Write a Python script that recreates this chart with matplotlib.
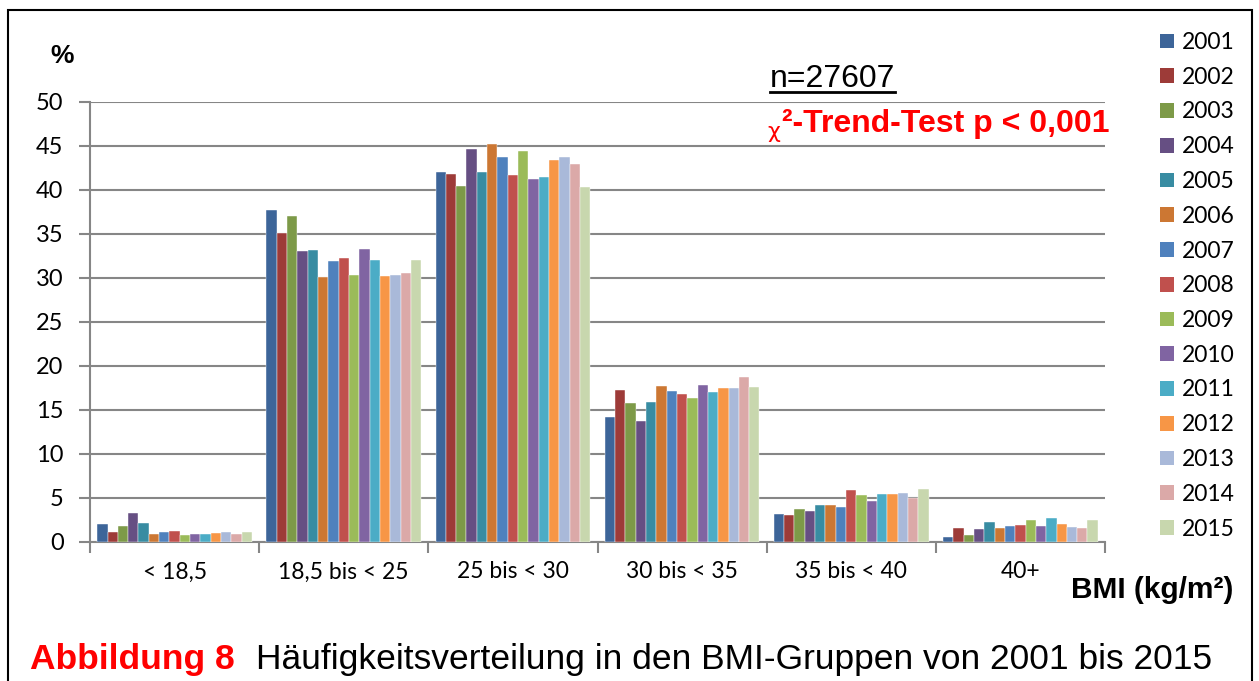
import matplotlib.pyplot as plt
import numpy as np
from matplotlib.patches import Rectangle, Patch

groups = ['< 18,5', '18,5 bis < 25', '25 bis < 30', '30 bis < 35', '35 bis < 40', '40+']
years = [str(y) for y in range(2001, 2016)]

# Werte je Jahr (eine Liste pro BMI-Gruppe, Reihenfolge 2001..2015)
bmi_u185 = [2.1, 1.1, 1.85, 3.3, 2.2, 0.9, 1.15, 1.2, 0.77, 0.88, 0.92, 1.05, 1.08, 0.96, 1.15]
bmi_185_25 = [37.7, 35.1, 37.1, 33.1, 33.2, 30.1, 31.9, 32.3, 30.3, 33.3, 32.0, 30.2, 30.3, 30.6, 32.1]
bmi_25_30 = [42.05, 41.8, 40.5, 44.7, 42.05, 45.2, 43.7, 41.7, 44.4, 41.3, 41.5, 43.4, 43.7, 42.9, 40.3]
bmi_30_35 = [14.2, 17.3, 15.8, 13.7, 15.9, 17.7, 17.2, 16.8, 16.4, 17.8, 17.1, 17.5, 17.5, 18.7, 17.65]
bmi_35_40 = [3.15, 3.1, 3.75, 3.5, 4.2, 4.25, 4.0, 5.95, 5.3, 4.65, 5.5, 5.5, 5.55, 5.0, 6.0]
bmi_40plus = [0.6, 1.55, 0.77, 1.5, 2.3, 1.55, 1.8, 1.95, 2.55, 1.85, 2.75, 2.1, 1.7, 1.6, 2.5]

data = np.array([bmi_u185, bmi_185_25, bmi_25_30, bmi_30_35, bmi_35_40, bmi_40plus])

colors = ['#3D6599', '#9D3B38', '#7D9A48', '#664F83', '#388CA2', '#CC7733', '#4F81BD',
          '#C0504D', '#9BBB59', '#8064A2', '#4BACC6', '#F79646', '#A9B9D9', '#DBA9A8', '#C8D7AE']

W, H = 1259, 681
fig = plt.figure(figsize=(W / 100, H / 100), dpi=100)
ax = fig.add_axes([90 / W, 1 - 542 / H, (1105 - 90) / W, (542 - 102) / H])

x = np.arange(len(groups))
bw = 0.061
for j, yr in enumerate(years):
    ax.bar(x + (j - 7) * bw, data[:, j], bw, color=colors[j], label=yr, zorder=3,
           edgecolor='white', linewidth=0.3)

ax.set_xlim(-0.5, len(groups) - 0.5)
ax.set_ylim(0, 50)
ax.set_yticks(np.arange(0, 51, 5))
ax.yaxis.grid(True, color='#868686', linewidth=1.5, zorder=0)
ax.set_xticks(x)
ax.set_xticklabels(groups, fontsize=16.5, family='Lato')
ax.set_xticks(np.arange(-0.5, len(groups), 1), minor=True)
ax.tick_params(axis='x', which='major', length=0, pad=14)
ax.tick_params(axis='x', which='minor', length=8, width=1.5, color='#868686')
ax.tick_params(axis='y', length=8, width=1.5, color='#868686', pad=11, labelsize=17)
for lbl in ax.get_yticklabels():
    lbl.set_family('Lato')
for s in ['top', 'right']:
    ax.spines[s].set_visible(False)
for s in ['left', 'bottom']:
    ax.spines[s].set_color('#868686')
    ax.spines[s].set_linewidth(1.5)

handles = [Patch(facecolor=c, edgecolor='none') for c in colors]
leg = fig.legend(handles, years, loc='upper left', bbox_to_anchor=(1160 / W, 1 - 32 / H),
                 frameon=False, prop={'family': 'Lato', 'size': 16.5},
                 handlelength=0.62, handleheight=0.62, labelspacing=0.6,
                 handletextpad=0.32, borderpad=0, borderaxespad=0)

fig.text(50 / W, 1 - 56 / H, '%', fontsize=19, fontweight='bold', family='Liberation Sans',
         va='center')
fig.text(770 / W, 1 - 87 / H, 'n=27607', fontsize=23, family='Liberation Sans',
         va='baseline')
fig.add_artist(plt.Line2D([770 / W, 895 / W], [1 - 92 / H, 1 - 92 / H], color='black',
                          linewidth=2))
fig.text(767 / W, 1 - 138 / H, 'χ', fontsize=16, color='red', family='DejaVu Sans',
         va='baseline')
fig.text(782 / W, 1 - 132 / H, '²-Trend-Test p < 0,001', fontsize=23, color='red',
         fontweight='bold', family='Liberation Sans', va='baseline')
fig.text(1071 / W, 1 - 598 / H, 'BMI (kg/m²)', fontsize=21.5, fontweight='bold',
         family='Liberation Sans', va='baseline')
fig.text(30 / W, 1 - 669 / H, 'Abbildung 8', fontsize=25.5, fontweight='bold', color='red',
         family='Liberation Sans', va='baseline')
fig.text(256 / W, 1 - 669 / H, 'Häufigkeitsverteilung in den BMI-Gruppen von 2001 bis 2015',
         fontsize=25.5, family='Liberation Sans', va='baseline')

fig.add_artist(Rectangle((8 / W, -0.05), (1252 - 8) / W, 1.05 - 10 / H,
                         transform=fig.transFigure, fill=False, edgecolor='black',
                         linewidth=1.5))

fig.savefig('out.png', dpi=100)
